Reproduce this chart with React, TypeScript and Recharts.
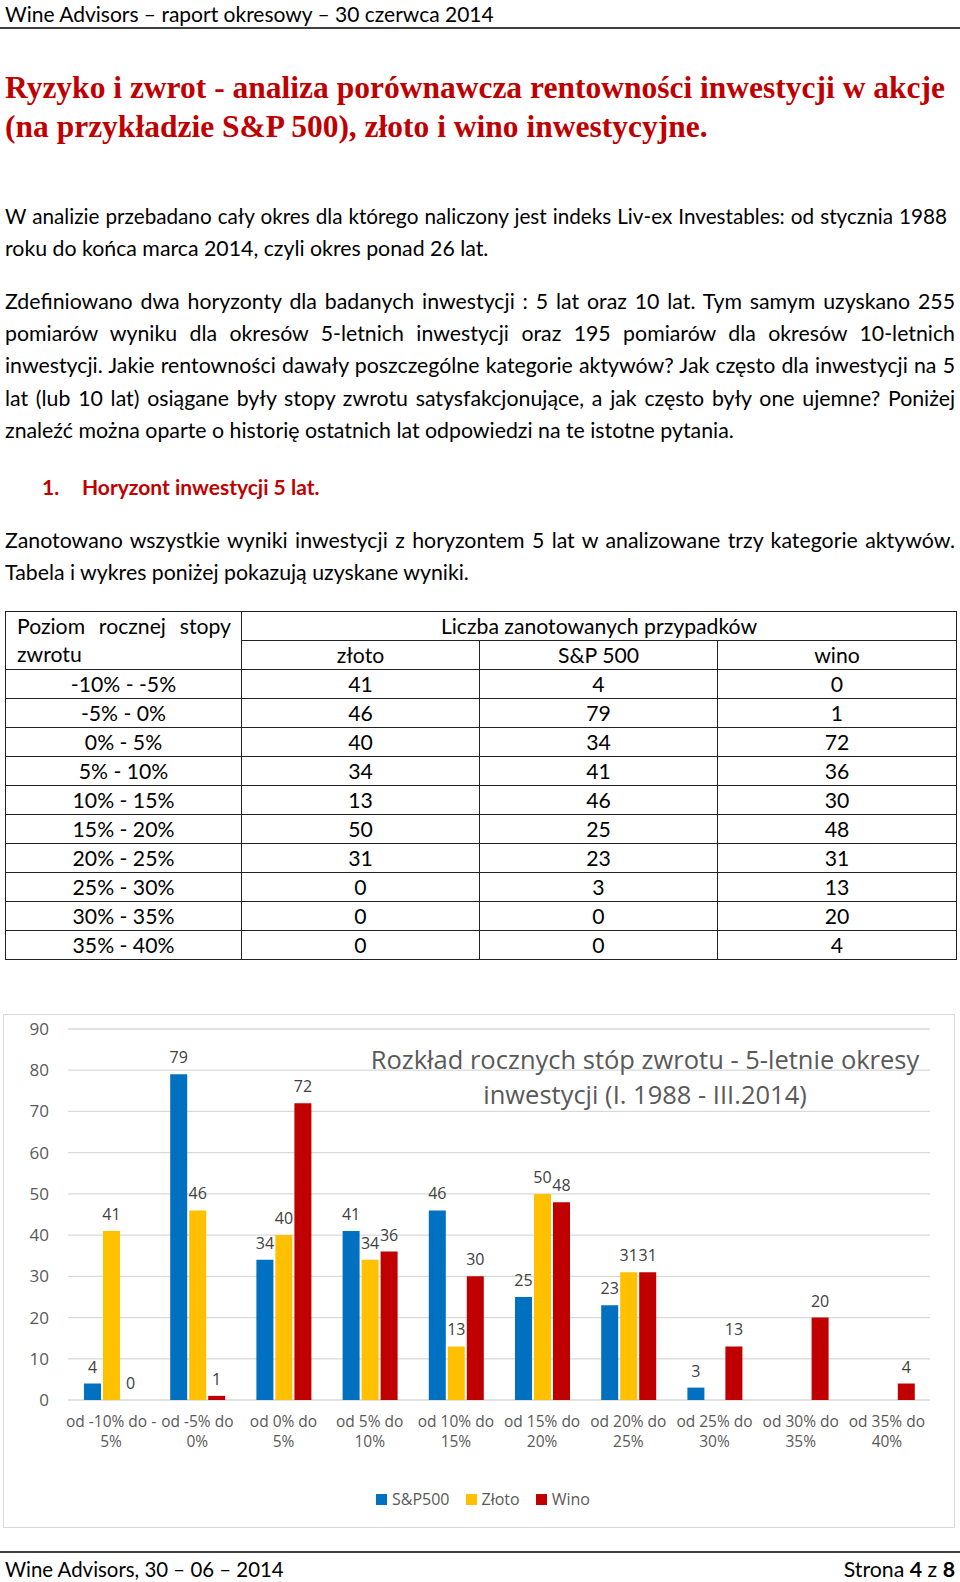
import React from "react";
import { BarChart, Bar, XAxis, YAxis, CartesianGrid, LabelList } from "recharts";

const BODY = "Lato, 'Liberation Sans', Arial, sans-serif";
const SERIF = "'Liberation Serif', 'DejaVu Serif', serif";
const CHART_FONT = "'Open Sans', 'Noto Sans', sans-serif";
const RED = "#C00000";

const headerText = "Wine Advisors – raport okresowy – 30 czerwca 2014";
const titleLines = [
  "Ryzyko i zwrot - analiza porównawcza rentowności inwestycji w akcje",
  "(na przykładzie S&P 500), złoto i wino inwestycyjne.",
];
const para1 = [
  "W analizie przebadano cały okres dla którego naliczony jest indeks Liv-ex Investables: od stycznia 1988",
  "roku do końca marca 2014, czyli okres ponad 26 lat.",
];
const para2 = [
  "Zdefiniowano dwa horyzonty dla badanych inwestycji : 5 lat oraz 10 lat. Tym samym uzyskano 255",
  "pomiarów wyniku dla okresów 5-letnich inwestycji oraz 195 pomiarów dla okresów 10-letnich",
  "inwestycji. Jakie rentowności dawały poszczególne kategorie aktywów? Jak często dla inwestycji na 5",
  "lat (lub 10 lat) osiągane były stopy zwrotu satysfakcjonujące, a jak często były one ujemne? Poniżej",
  "znaleźć można oparte o historię ostatnich lat odpowiedzi na te istotne pytania.",
];
const para3 = [
  "Zanotowano wszystkie wyniki inwestycji z horyzontem 5 lat w analizowane trzy kategorie aktywów.",
  "Tabela i wykres poniżej pokazują uzyskane wyniki.",
];

// table
const ranges = [
  "-10% - -5%", "-5% - 0%", "0% - 5%", "5% - 10%", "10% - 15%",
  "15% - 20%", "20% - 25%", "25% - 30%", "30% - 35%", "35% - 40%",
];
const zlotoCounts = [41, 46, 40, 34, 13, 50, 31, 0, 0, 0];
const spCounts = [4, 79, 34, 41, 46, 25, 23, 3, 0, 0];
const winoCounts = [0, 1, 72, 36, 30, 48, 31, 13, 20, 4];

// chart
const catTop = [
  "od -10% do -", "od -5% do", "od 0% do", "od 5% do", "od 10% do",
  "od 15% do", "od 20% do", "od 25% do", "od 30% do", "od 35% do",
];
const catBottom = ["5%", "0%", "5%", "10%", "15%", "20%", "25%", "30%", "35%", "40%"];
const spBars = [4, 79, 34, 41, 46, 25, 23, 3, null, null];
const zlotoBars = [41, 46, 40, 34, 13, 50, 31, null, null, null];
const winoBars = [0, 1, 72, 36, 30, 48, 31, 13, 20, 4];
const yTicks = [0, 10, 20, 30, 40, 50, 60, 70, 80, 90];
const chartTitle = [
  "Rozkład rocznych stóp zwrotu - 5-letnie okresy",
  "inwestycji (I. 1988 - III.2014)",
];
const seriesNames = ["S&P500", "Złoto", "Wino"];
const seriesKeys = ["sp", "zloto", "wino"];
const seriesColors = ["#0070C0", "#FFC000", "#C00000"];

const data = catTop.map((c, i) => ({
  cat: `${c} ${catBottom[i]}`,
  sp: spBars[i],
  zloto: zlotoBars[i],
  wino: winoBars[i],
}));

function TextLine({
  center, text, left = 5, width = 950, justify = false, size = 21.3,
  color = "#000", weight = 400, family = BODY,
}: any) {
  return (
    <div
      style={{
        position: "absolute", top: center - 16, left, width, height: 32,
        lineHeight: "32px", fontSize: size, color, fontWeight: weight,
        fontFamily: family, textAlign: justify ? "justify" : "left",
        textAlignLast: justify ? "justify" : "auto", whiteSpace: "nowrap",
      }}
    >
      {text}
    </div>
  );
}

function CatTick(props: any) {
  const { x, y, payload } = props;
  const i = data.findIndex((d) => d.cat === payload.value);
  return (
    <text x={x} y={y} textAnchor="middle" fill="#595959" fontSize={15.5} fontFamily={CHART_FONT}>
      <tspan x={x} dy={19}>{catTop[i]}</tspan>
      <tspan x={x} dy={20}>{catBottom[i]}</tspan>
    </text>
  );
}

// keep zero-height bars so their "0" label is still drawn
const zeroKeeper = (v: any) => (v === 0 ? 0.01 : 0);

const cell: React.CSSProperties = {
  border: "1px solid #222", padding: 0, height: 28, textAlign: "center",
  fontSize: 21.2, lineHeight: "28px", fontFamily: BODY,
};

export default function App() {
  return (
    <div style={{ position: "absolute", left: 0, top: 0, width: 960, height: 1582, background: "#fff", color: "#000", fontFamily: BODY }}>
      <TextLine center={14} text={headerText} size={21} />
      <div style={{ position: "absolute", left: 0, top: 27, width: 960, height: 2, background: "#404040" }} />

      {titleLines.map((t, i) => (
        <TextLine key={t} center={88 + i * 39} text={t} size={31.5} weight={700} color={RED} family={SERIF} />
      ))}

      {para1.map((t, i) => (
        <TextLine key={t} center={216 + i * 32} text={t} justify={i === 0} width={i === 0 ? 942 : 950} size={i === 0 ? 20.7 : 21.3} />
      ))}
      {para2.map((t, i) => (
        <TextLine key={t} center={301 + i * 32.2} text={t} justify={i < para2.length - 1} />
      ))}
      <TextLine center={487} left={42} text="1." weight={700} color={RED} size={21} />
      <TextLine center={487} left={82} text="Horyzont inwestycji 5 lat." weight={700} color={RED} size={21} />
      {para3.map((t, i) => (
        <TextLine key={t} center={540 + i * 32} text={t} justify={i === 0} />
      ))}

      <table style={{ position: "absolute", left: 5, top: 611, width: 951, borderCollapse: "collapse", tableLayout: "fixed" }}>
        <colgroup>
          <col style={{ width: 236 }} />
          <col style={{ width: 238 }} />
          <col style={{ width: 238 }} />
          <col style={{ width: 239 }} />
        </colgroup>
        <tbody>
          <tr>
            <td rowSpan={2} style={{ ...cell, textAlign: "left", padding: "0 10px 0 11px", verticalAlign: "top" }}>
              <div style={{ textAlign: "justify", textAlignLast: "justify" }}>Poziom rocznej stopy</div>
              <div>zwrotu</div>
            </td>
            <td colSpan={3} style={cell}>Liczba zanotowanych przypadków</td>
          </tr>
          <tr>
            <td style={cell}>złoto</td>
            <td style={cell}>S&amp;P 500</td>
            <td style={cell}>wino</td>
          </tr>
          {ranges.map((r, i) => (
            <tr key={r}>
              <td style={cell}>{r}</td>
              <td style={cell}>{zlotoCounts[i]}</td>
              <td style={cell}>{spCounts[i]}</td>
              <td style={cell}>{winoCounts[i]}</td>
            </tr>
          ))}
        </tbody>
      </table>

      <div style={{ position: "absolute", left: 3, top: 1014, width: 952, height: 514, boxSizing: "border-box", border: "1px solid #d9d9d9" }} />
      <div style={{ position: "absolute", left: 3, top: 1014 }}>
        <BarChart width={952} height={514} data={data} margin={{ top: 15, right: 25, left: 15, bottom: 98 }} barSize={17} barGap={2}>
          <CartesianGrid vertical={false} stroke="#d9d9d9" strokeWidth={1.3} />
          <XAxis dataKey="cat" height={30} axisLine={false} tickLine={false} interval={0} tick={<CatTick />} />
          <YAxis
            width={50} domain={[0, 90]} ticks={yTicks} axisLine={false} tickLine={false} tickMargin={13}
            tick={{ fill: "#595959", fontSize: 17, fontFamily: CHART_FONT }}
          />
          {seriesKeys.map((k, i) => (
            <Bar key={k} dataKey={k} name={seriesNames[i]} fill={seriesColors[i]} minPointSize={zeroKeeper} isAnimationActive={false}>
              <LabelList dataKey={k} position="top" offset={11} fill="#404040" fontSize={16} fontFamily={CHART_FONT} />
            </Bar>
          ))}
        </BarChart>
      </div>
      <div style={{ position: "absolute", left: 295, top: 1042, width: 700, textAlign: "center", fontFamily: CHART_FONT, fontSize: 25.5, lineHeight: "35px", color: "#595959", pointerEvents: "none" }}>
        {chartTitle.map((t) => <div key={t}>{t}</div>)}
      </div>
      <div style={{ position: "absolute", left: 376, top: 1488, height: 22, display: "flex", alignItems: "center", fontFamily: CHART_FONT, fontSize: 16, color: "#595959" }}>
        {seriesNames.map((n, i) => (
          <div key={n} style={{ display: "flex", alignItems: "center", marginRight: 16 }}>
            <span style={{ width: 11, height: 11, background: seriesColors[i], marginRight: 5, display: "inline-block" }} />
            <span>{n}</span>
          </div>
        ))}
      </div>

      <div style={{ position: "absolute", left: 0, top: 1551, width: 960, height: 2, background: "#404040" }} />
      <TextLine center={1569} text="Wine Advisors, 30 – 06 – 2014" size={20.4} />
      <div style={{ position: "absolute", right: 5, top: 1553, height: 32, lineHeight: "32px", fontSize: 21.3, fontFamily: BODY }}>
        Strona <b>4</b> z <b>8</b>
      </div>
    </div>
  );
}
